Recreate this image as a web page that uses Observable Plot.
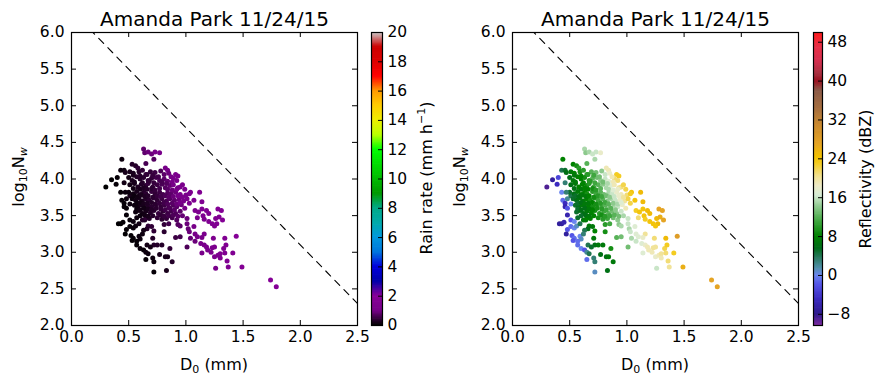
<!DOCTYPE html>
<html><head><meta charset="utf-8">
<script src="https://cdn.jsdelivr.net/npm/d3@7"></script>
<script src="https://cdn.jsdelivr.net/npm/@observablehq/plot@0.6"></script>
<style>
body{margin:0;background:#fff;}
#root{position:relative;width:886px;height:386px;overflow:hidden;font-family:"DejaVu Sans",sans-serif;color:#000;background:#fff;}
#root svg{position:absolute;top:0;}
.lbl{position:absolute;font-size:16px;white-space:nowrap;line-height:1;}
.ctr{transform:translate(-50%,0);}
.rot{transform:translate(-50%,-50%) rotate(-90deg);}
.lbl sub{font-size:11px;vertical-align:-3px;line-height:0;}
.lbl sup{font-size:11px;vertical-align:7px;line-height:0;}
</style></head><body><div id="root"></div>
<script>
// ---------- data ----------
const title = "Amanda Park 11/24/15";
const d0 = [
0.63,0.64,0.67,0.70,0.73,0.77,0.72,0.44,0.65,0.53,
0.56,0.58,0.43,0.46,0.47,0.82,0.84,0.91,0.93,0.89,
0.40,0.35,0.30,0.39,0.46,0.95,0.99,1.04,1.12,1.07,
1.14,1.03,1.08,1.11,1.14,1.18,1.20,1.15,1.10,1.28,
1.31,1.26,1.29,1.27,1.23,1.25,1.20,1.16,1.32,0.44,
0.46,0.46,0.48,0.51,0.51,0.48,0.41,0.43,0.45,0.51,
0.54,0.62,0.64,0.65,0.51,0.54,0.48,0.47,0.52,0.54,
0.53,0.59,0.60,0.57,0.60,0.63,0.57,0.67,0.70,0.66,
0.72,0.71,0.72,0.75,0.79,0.81,0.85,0.81,0.66,0.69,
0.65,0.67,0.65,0.71,0.72,0.77,0.82,0.84,0.86,0.88,
0.72,0.83,0.91,0.95,1.01,0.92,0.93,0.95,1.01,1.01,
1.02,1.03,1.07,1.08,1.10,1.04,1.08,1.16,1.14,1.13,
1.16,1.18,1.14,1.19,1.22,1.23,1.25,1.24,1.25,1.28,
1.30,1.30,1.33,1.34,1.35,1.34,1.44,1.41,1.36,1.37,
1.26,1.49,1.74,1.79,0.51,0.54,0.59,0.62,0.65,0.69,
0.73,0.78,0.81,0.85,0.87,0.50,0.53,0.57,0.60,0.63,
0.67,0.70,0.74,0.77,0.81,0.84,0.88,0.92,0.51,0.55,
0.58,0.61,0.65,0.67,0.71,0.75,0.79,0.82,0.86,0.89,
0.93,0.97,0.50,0.54,0.57,0.60,0.63,0.65,0.70,0.73,
0.77,0.80,0.84,0.87,0.91,0.95,1.00,1.03,0.53,0.56,
0.59,0.62,0.65,0.68,0.72,0.75,0.79,0.83,0.86,0.90,
0.94,0.98,1.01,0.55,0.58,0.61,0.64,0.67,0.70,0.74,
0.78,0.81,0.85,0.89,0.92,0.96,0.99,0.56,0.59,0.62,
0.65,0.69,0.72,0.76,0.80,0.84,0.87,0.91,0.95,0.57,
0.68,0.75,0.79,0.83,0.88,0.56,0.59,0.63,0.62,0.48,
0.43,0.47,
0.54,0.60,0.66,0.71,0.76,
0.55,0.62,0.68,0.72,0.79,0.83,
0.54,0.60,0.63,0.66,0.70,0.73,0.77,0.84,0.88,0.92,
0.55,0.58,0.61,0.64,0.67,0.71,0.75,0.78,0.82,0.85,0.89,0.93,0.97,
0.57,0.60,0.63,0.66,0.70,0.73,0.77,0.81,0.84,0.88,0.92,0.95,
0.57,0.60,0.63,0.67,0.70,0.74,0.78,0.82,0.86,0.90,
0.60,0.64,0.67,0.71,0.78,0.81,0.85,0.89,0.93,0.97];
const logNw = [
4.41,4.36,4.37,4.34,4.37,4.36,4.27,4.27,4.21,4.20,
4.18,4.15,4.12,4.12,4.09,4.15,4.12,4.06,4.04,4.01,
4.02,3.99,3.89,3.93,3.95,3.89,3.86,3.82,3.82,3.71,
3.69,3.67,3.57,3.55,3.59,3.57,3.53,3.50,3.47,3.59,
3.57,3.46,3.48,3.39,3.39,3.36,3.42,3.45,3.44,3.71,
3.67,3.62,3.73,3.77,3.66,3.51,3.39,3.39,3.41,3.44,
3.42,3.44,3.44,3.47,3.35,3.33,3.31,3.25,3.23,3.19,
3.16,3.22,3.18,3.10,3.05,3.03,3.15,3.36,3.35,3.32,
3.29,3.19,3.10,3.10,3.10,3.28,3.39,3.38,3.10,3.07,
3.00,2.98,2.90,2.92,2.87,2.97,2.94,2.94,3.05,2.87,
2.73,2.75,3.20,3.21,3.07,3.44,3.38,3.36,3.46,3.39,
3.32,3.28,3.35,3.25,3.21,3.19,3.15,3.25,3.20,3.12,
3.10,3.07,2.99,3.03,3.00,3.06,3.07,3.19,2.94,2.96,
2.98,2.92,3.05,2.99,3.10,3.19,3.22,2.99,2.88,2.80,
2.78,2.80,2.62,2.53,4.10,4.08,4.10,4.12,4.06,4.10,
4.09,4.11,4.06,4.08,4.03,4.02,3.98,4.03,4.00,4.02,
3.98,4.01,4.02,3.98,4.00,3.97,3.96,3.98,3.92,3.94,
3.89,3.93,3.91,3.94,3.89,3.92,3.93,3.88,3.91,3.92,
3.88,3.92,3.82,3.80,3.83,3.79,3.82,3.80,3.83,3.80,
3.82,3.79,3.81,3.80,3.82,3.79,3.78,3.80,3.73,3.71,
3.74,3.70,3.73,3.71,3.74,3.71,3.73,3.70,3.73,3.71,
3.72,3.70,3.73,3.64,3.62,3.65,3.61,3.64,3.62,3.65,
3.62,3.64,3.61,3.64,3.62,3.65,3.60,3.55,3.57,3.53,
3.56,3.54,3.57,3.53,3.56,3.53,3.56,3.53,3.56,3.47,
3.46,3.47,3.45,3.46,3.47,3.36,3.39,3.30,3.25,3.60,
3.82,3.82,
4.05,4.04,4.06,4.05,4.03,
3.96,3.95,3.97,3.95,3.96,3.94,
3.87,3.86,3.88,3.86,3.87,3.85,3.87,3.86,3.85,3.86,
3.77,3.76,3.78,3.76,3.77,3.75,3.77,3.76,3.77,3.75,3.76,3.77,3.75,
3.67,3.68,3.66,3.67,3.68,3.66,3.67,3.68,3.66,3.67,3.66,3.68,
3.59,3.58,3.60,3.59,3.58,3.60,3.59,3.58,3.60,3.58,
3.50,3.51,3.49,3.50,3.51,3.49,3.50,3.51,3.49,3.50];
const rainRate = [
0.8,0.8,0.9,0.9,1.0,1.1,0.7,0.1,0.6,0.3,
0.3,0.4,0.1,0.1,0.2,1.0,1.0,1.3,1.3,1.2,
0.05,0.02,0.01,0.05,0.15,1.3,1.3,1.4,1.5,1.4,
1.5,1.3,1.4,1.4,1.5,1.5,1.5,1.4,1.3,1.7,
1.7,1.6,1.6,1.6,1.5,1.5,1.5,1.4,1.7,0.05,
0.05,0.05,0.1,0.2,0.1,0.05,0.02,0.02,0.03,0.06,
0.1,0.3,0.3,0.4,0.06,0.08,0.04,0.02,0.04,0.05,
0.04,0.1,0.1,0.05,0.08,0.06,0.05,0.4,0.4,0.3,
0.4,0.3,0.3,0.3,0.3,0.35,0.55,0.42,0.15,0.15,
0.1,0.1,0.05,0.1,0.1,0.2,0.2,0.2,0.4,0.3,
0.05,0.2,0.5,0.55,0.65,0.7,0.7,0.75,0.9,0.9,
0.85,0.9,1.05,1.0,1.05,0.85,0.9,1.25,1.1,1.05,
1.1,1.2,1.05,1.2,1.25,1.3,1.3,1.4,1.25,1.3,
1.4,1.4,1.5,1.4,1.5,1.6,1.8,1.5,1.5,1.4,
1.1,1.7,1.8,1.8,0.2,0.2,0.3,0.4,0.4,0.42,
0.5,0.63,0.77,0.9,1.0,0.15,0.2,0.3,0.3,0.35,
0.4,0.42,0.56,0.63,0.77,0.84,1.0,1.1,0.15,0.2,
0.25,0.3,0.35,0.45,0.4,0.5,0.63,0.7,0.84,1.0,
1.1,1.25,0.1,0.15,0.2,0.25,0.3,0.35,0.45,0.4,
0.5,0.56,0.7,0.77,0.9,1.05,1.2,1.3,0.1,0.15,
0.2,0.2,0.3,0.35,0.45,0.4,0.5,0.6,0.7,0.8,
0.9,1.05,1.2,0.1,0.15,0.2,0.2,0.3,0.35,0.45,
0.4,0.5,0.56,0.66,0.77,0.9,1.0,0.1,0.15,0.15,
0.2,0.3,0.35,0.45,0.4,0.5,0.56,0.66,0.77,0.1,
0.3,0.4,0.35,0.42,0.56,0.1,0.15,0.15,0.12,0.05,
0.05,0.1,
0.2,0.3,0.4,0.45,0.55,
0.2,0.3,0.4,0.45,0.6,0.7,
0.15,0.2,0.25,0.3,0.35,0.45,0.55,0.75,0.9,1.0,
0.1,0.15,0.2,0.25,0.3,0.35,0.45,0.55,0.65,0.75,0.9,1.05,1.15,
0.1,0.15,0.2,0.25,0.3,0.35,0.45,0.55,0.65,0.75,0.9,1.0,
0.1,0.15,0.15,0.2,0.3,0.35,0.45,0.55,0.65,0.75,
0.1,0.15,0.2,0.3,0.4,0.45,0.55,0.65,0.75,0.85];
const reflectivity = [
15,14,15,16,16,18,15,8,12,8,
9,10,4,5,6,19,19,23,23,21,
-3,-7,-9,-5,3,21,22,24,25,24,
25,22,23,24,24,25,25,24,21,27,
27,25,26,25,24,24,24,23,27,-1,
-5,-6,2,4,0,-6,-7,-7,-6,-2,
0,7,7,8,-1,0,-2,-7,-2,-1,
-2,0,1,-1,0,-2,-1,7,7,6,
8,7,6,7,7,9,11,10,4,5,
2,4,-1,3,3,6,6,7,9,7,
1,6,12,13,13,14,14,15,16,16,
15,16,17,17,17,15,16,20,18,17,
18,19,17,19,19,20,20,21,18,19,
20,19,22,21,23,25,28,23,21,20,
16,26,27,27,7,8,9,10,10,12,
13,14,16,18,19,6,7,8,8,9,
10,12,13,14,16,17,19,21,6,7,
8,8,9,10,11,12,14,15,17,19,
20,22,5,6,7,8,8,9,10,11,
12,13,15,16,18,19,21,23,5,6,
7,7,8,9,10,11,12,14,15,16,
18,20,22,5,6,7,7,8,9,10,
11,12,14,15,16,18,19,5,6,6,
7,8,9,10,11,12,13,14,16,5,
8,9,10,11,13,1,4,4,3,-2,
0,3,
7,8,10,11,13,
7,8,10,11,13,15,
6,7,8,8,9,10,12,15,17,18,
5,6,7,7,8,9,10,11,13,14,16,18,20,
5,6,7,7,8,9,10,11,12,14,15,17,
5,6,6,7,8,9,10,11,12,14,
5,6,7,8,9,10,11,12,13,15];
// dashed reference line (log10Nw = 6.3 - 1.6 D0) end points
const lineD0 = [0, 2.5];
const lineLogNw = [6.3, 2.3];
// tick labels
const xTicks = [0, 0.5, 1.0, 1.5, 2.0, 2.5];
const yTicks = [2.0, 2.5, 3.0, 3.5, 4.0, 4.5, 5.0, 5.5, 6.0];
const rainTicks = [0, 2, 4, 6, 8, 10, 12, 14, 16, 18, 20];
const dbzTicks = [-8, 0, 8, 16, 24, 32, 40, 48];
// colour maps (stops)
const rainStops = [0,1,2,3,4,5,6,7,8,9,10,11,12,13,14,15,16,17,18,19,20];
const rainColors = ["#000000","#770088","#880099","#0000aa","#0000dd","#0077dd","#0099dd","#00aaaa","#00aa88","#009900","#00bb00","#00dd00","#00ff00","#bbff00","#eeee00","#ffcc00","#ff9900","#ff0000","#dd0000","#cc0000","#cccccc"];
const dbzStops = [-10.3,-8,-5,-2,0,1.5,3.5,5.5,8,11,14,16.5,18.5,20.5,23,24.5,27,31,34,38,40,41.5,44,47,50];
const dbzColors = ["#7b2a9e","#2e1a8c","#3b2bbf","#5353e6","#6b86ef","#4f8fa8","#2b7a62","#006b1a","#008200","#3ea63e","#8cc98c","#d8ecd6","#eeeac4","#f2e08a","#f4cc20","#f2c000","#e5a424","#c9882f","#a8703e","#8b5a48","#9a1020","#a83040","#d43050","#e83048","#ff1a1a"];

// ---------- build ----------
const points = d0.map((d, i) => ({d0: d, logNw: logNw[i], R: rainRate[i], Z: reflectivity[i]}));
const refLine = lineD0.map((d, i) => ({d0: d, logNw: lineLogNw[i]}));
const rainScale = {type: "linear", domain: rainStops, range: rainColors, interpolate: "rgb", clamp: true};
const dbzScale = {type: "linear", domain: dbzStops, range: dbzColors, interpolate: "rgb", clamp: true};
const fmt1 = d3.format(".1f");
const root = document.getElementById("root");

function scatter(fillKey, colorScale, leftPx) {
  const W = 362, H = 386, mL = 71, mR = W - 357, mT = 32, mB = H - 325;
  const pw = W - mL - mR, ph = H - mT - mB;
  const svg = Plot.plot({
    width: W, height: H, marginLeft: mL, marginRight: mR, marginTop: mT, marginBottom: mB,
    x: {domain: [0, 2.5]}, y: {domain: [2, 6]},
    color: colorScale,
    style: {fontFamily: "DejaVu Sans", fontSize: "15.5px", background: "transparent", overflow: "visible", color: "black"},
    marks: [
      Plot.dot(points, {x: "d0", y: "logNw", fill: fillKey, r: 2.5}),
      Plot.line(refLine, {x: "d0", y: "logNw", stroke: "black", strokeWidth: 1.1, strokeDasharray: "7,6", clip: true}),
      Plot.tickX(xTicks, {x: d => d, insetTop: ph - 5, stroke: "black"}),
      Plot.tickX(xTicks, {x: d => d, insetBottom: ph - 5, stroke: "black"}),
      Plot.tickY(yTicks, {y: d => d, insetRight: pw - 5, stroke: "black"}),
      Plot.tickY(yTicks, {y: d => d, insetLeft: pw - 5, stroke: "black"}),
      Plot.axisX(xTicks, {tickSize: 0, tickPadding: 5, tickFormat: fmt1, label: null, fill: "black"}),
      Plot.axisY(yTicks, {tickSize: 0, tickPadding: 7, tickFormat: fmt1, label: null, fill: "black"}),
      Plot.frame({stroke: "black", strokeWidth: 1.2}),
      Plot.text([title], {frameAnchor: "top", dy: -7, lineAnchor: "bottom", fontSize: 20, fill: "black"})
    ]
  });
  svg.style.left = leftPx + "px";
  root.appendChild(svg);
}

function colorbar(colorScale, domain, ticks, barW, leftPx) {
  const H = 386, mT = 32, mB = 61, W = barW + 45;
  const n = 240, step = (domain[1] - domain[0]) / n;
  const ramp = d3.range(n).map(i => domain[0] + i * step);
  const svg = Plot.plot({
    width: W, height: H, marginLeft: 0, marginRight: W - barW, marginTop: mT, marginBottom: mB,
    x: {domain: [0, 1], axis: null}, y: {domain},
    color: colorScale,
    style: {fontFamily: "DejaVu Sans", fontSize: "15.5px", background: "transparent", overflow: "visible", color: "black"},
    marks: [
      Plot.rect(ramp, {x1: 0, x2: 1, y1: d => d, y2: d => Math.min(domain[1], d + step * 1.6), fill: d => d + step / 2}),
      Plot.tickY(ticks, {y: d => d, insetLeft: barW - 4, stroke: "black"}),
      Plot.axisY(ticks, {anchor: "right", tickSize: 0, tickPadding: 5, label: null, fill: "black"}),
      Plot.frame({stroke: "black", strokeWidth: 1.2})
    ]
  });
  svg.style.left = leftPx + "px";
  root.appendChild(svg);
}

function label(html, x, y, cls) {
  const d = document.createElement("div");
  d.className = "lbl " + cls;
  d.style.left = x + "px";
  d.style.top = y + "px";
  d.innerHTML = html;
  root.appendChild(d);
}

scatter("R", rainScale, 0);
scatter("Z", dbzScale, 441);
colorbar(rainScale, [0, 20], rainTicks, 11, 371);
colorbar(dbzScale, [-10.3, 50], dbzTicks, 9, 813);

const xLab = "D<sub>0</sub> (mm)";
const yLab = "log<sub>10</sub>N<sub><i>w</i></sub>";
label(xLab, 214, 357, "ctr");
label(xLab, 655, 357, "ctr");
label(yLab, 19, 177, "rot");
label(yLab, 460, 177, "rot");
label("Rain rate (mm h<sup>\u22121</sup>)", 427, 178, "rot");
label("Reflectivity (dBZ)", 866, 179, "rot");
</script></body></html>
